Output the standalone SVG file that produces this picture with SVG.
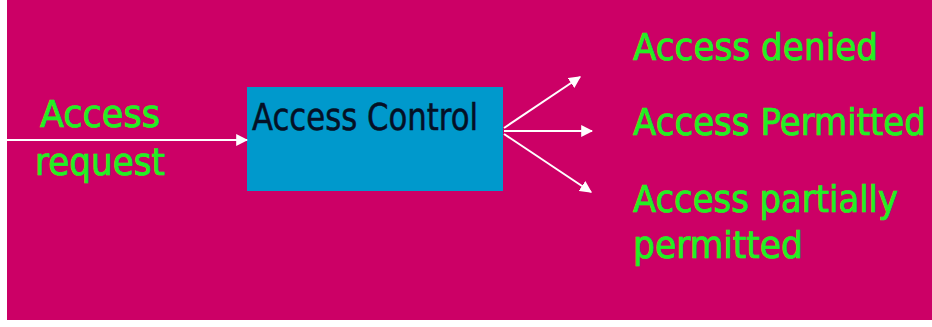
<svg xmlns="http://www.w3.org/2000/svg" width="932" height="327" viewBox="0 0 932 327">
<style>
.lbl{font-family:"DejaVu Sans Condensed","DejaVu Sans","Liberation Sans",sans-serif;font-stretch:condensed;fill:#22F022;stroke:#22F022;stroke-width:0.7;font-size:38px}
.box{font-family:"DejaVu Sans Condensed","DejaVu Sans","Liberation Sans",sans-serif;font-stretch:condensed;fill:#051025;stroke:#051025;stroke-width:0.5;font-size:38px}
.conn{stroke:#FFFFFF;stroke-width:2;fill:none}
</style>
<defs>
<marker id="ah" viewBox="0 0 10 10" refX="9" refY="5" markerWidth="6" markerHeight="6" orient="auto" markerUnits="strokeWidth">
<path d="M0,0 L10,5 L0,10 Z" fill="#FFFFFF"/>
</marker>
</defs>
<rect x="0" y="0" width="932" height="327" fill="#FFFFFF"/>
<rect x="7" y="0" width="925" height="320" fill="#CC0066"/>
<g id="access-control">
<rect x="247" y="87" width="256" height="104" fill="#0099CC"/>
<text class="box" x="252" y="130" textLength="226" lengthAdjust="spacingAndGlyphs">Access Control</text>
</g>
<g id="access-request">
<text class="lbl" x="40" y="127" textLength="120" lengthAdjust="spacingAndGlyphs">Access</text>
<text class="lbl" x="35" y="175" textLength="130" lengthAdjust="spacingAndGlyphs">request</text>
</g>
<g id="access-denied">
<text class="lbl" x="633" y="60" textLength="245" lengthAdjust="spacingAndGlyphs">Access denied</text>
</g>
<g id="access-permitted">
<text class="lbl" x="633" y="135" textLength="293" lengthAdjust="spacingAndGlyphs">Access Permitted</text>
</g>
<g id="access-partially">
<text class="lbl" x="633" y="212" textLength="265" lengthAdjust="spacingAndGlyphs">Access partially</text>
<text class="lbl" x="633" y="258" textLength="170" lengthAdjust="spacingAndGlyphs">permitted</text>
</g>
<g id="connectors">
<line class="conn" x1="7" y1="140" x2="247" y2="140" marker-end="url(#ah)"/>
<line class="conn" x1="504" y1="128" x2="580" y2="77" marker-end="url(#ah)"/>
<line class="conn" x1="504" y1="131" x2="592" y2="131" marker-end="url(#ah)"/>
<line class="conn" x1="504" y1="134" x2="591" y2="192" marker-end="url(#ah)"/>
</g>
</svg>
